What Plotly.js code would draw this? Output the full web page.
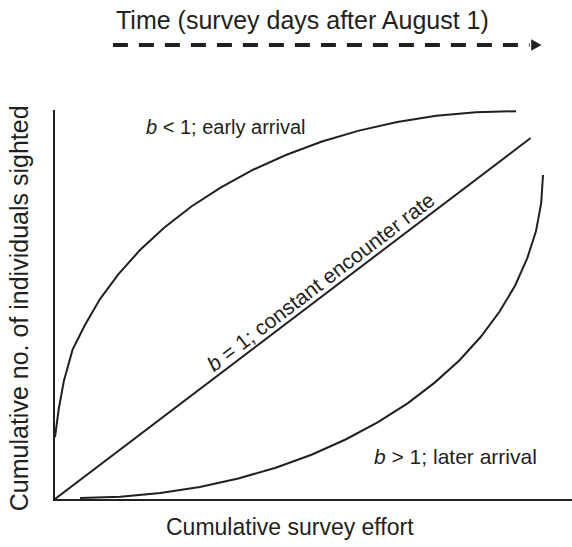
<!DOCTYPE html>
<html>
<head>
<meta charset="utf-8">
<script src="https://cdn.plot.ly/plotly-3.0.1.min.js"></script>
<style>
  html, body { margin: 0; padding: 0; background: #ffffff; }
  #chart { width: 572px; height: 547px; }
</style>
</head>
<body>
<div id="chart"></div>
<script>
// Cumulative sightings against cumulative survey effort for three shapes of b

// b < 1: early arrival (concave, saturating)
const earlyEffort  = [0, 0.73, 1.74, 3.40, 5.74, 8.70, 12.28, 16.44, 21.16, 26.38, 32.11, 38.24, 44.78, 51.64, 58.80, 66.19, 73.75, 81.43, 89.17];
const earlySighted = [15.9, 23.2, 30.5, 38.4, 44.6, 51.4, 57.8, 64.0, 69.8, 75.2, 80.1, 84.6, 88.5, 91.9, 94.7, 96.9, 98.5, 99.4, 99.7];

// b = 1: constant encounter rate (straight line)
const constEffort  = [0, 92.0];
const constSighted = [0, 92.8];

// b > 1: later arrival (convex, accelerating)
const lateEffort   = [4.84, 12.65, 20.39, 28.01, 35.45, 42.69, 49.61, 56.2, 62.40, 68.2, 73.44, 78.2, 82.40, 86.00, 89.00, 91.32, 93.04, 94.04, 94.39];
const lateSighted  = [0.26, 0.57, 1.52, 3.08, 5.27, 8.05, 11.38, 15.3, 19.69, 24.6, 29.92, 35.6, 41.77, 48.20, 54.88, 61.80, 68.87, 76.04, 83.29];

// Labels
const timeLabel  = 'Time (survey days after August 1)';
const xLabel     = 'Cumulative survey effort';
const yLabel     = 'Cumulative no. of individuals sighted';
const earlyLabel = '<i>b</i> &lt; 1; early arrival';
const constLabel = '<i>b</i> = 1; constant encounter rate';
const lateLabel  = '<i>b</i> &gt; 1; later arrival';

const INK = '#231f20';
const FONT = 'Liberation Sans, Arial, Helvetica, sans-serif';

function curve(x, y) {
  return {
    x: x, y: y, type: 'scatter', mode: 'lines',
    line: { color: INK, width: 2, shape: 'linear' },
    cliponaxis: false, hoverinfo: 'skip', showlegend: false
  };
}

const traces = [
  curve(earlyEffort, earlySighted),
  curve(constEffort, constSighted),
  curve(lateEffort, lateSighted)
];

const axisBase = {
  range: [0, 100], showline: true, linecolor: INK, linewidth: 2,
  showgrid: false, zeroline: false, showticklabels: false, ticks: '',
  fixedrange: true
};

const layout = {
  width: 572, height: 547,
  margin: { l: 55, r: 0, t: 110, b: 48, pad: 0 },
  paper_bgcolor: '#ffffff', plot_bgcolor: '#ffffff',
  font: { family: FONT, color: INK, size: 21 },
  xaxis: Object.assign({}, axisBase),
  yaxis: Object.assign({}, axisBase),
  showlegend: false,
  annotations: [
    { text: timeLabel, xref: 'paper', yref: 'paper', x: 0.479, y: 1.231,
      xanchor: 'center', yanchor: 'middle', showarrow: false, font: { size: 25 } },
    { text: xLabel, xref: 'paper', yref: 'paper', x: 0.455, y: -0.072,
      xanchor: 'center', yanchor: 'middle', showarrow: false, font: { size: 23 } },
    { text: yLabel, xref: 'paper', yref: 'paper', x: -0.068, y: 0.49,
      xanchor: 'center', yanchor: 'middle', textangle: -90, showarrow: false, font: { size: 25 } },
    { text: earlyLabel, xref: 'x', yref: 'y', x: 33, y: 95.6,
      xanchor: 'center', yanchor: 'middle', showarrow: false, font: { size: 20 } },
    { text: constLabel, xref: 'x', yref: 'y', x: 51.5, y: 55.8,
      xanchor: 'center', yanchor: 'middle', textangle: -37.3, showarrow: false, font: { size: 21 } },
    { text: lateLabel, xref: 'x', yref: 'y', x: 77.4, y: 10.8,
      xanchor: 'center', yanchor: 'middle', showarrow: false, font: { size: 21 } }
  ],
  shapes: [
    // dashed time arrow shaft
    { type: 'line', xref: 'paper', yref: 'paper', x0: 0.112, x1: 0.918, y0: 1.167, y1: 1.167,
      line: { color: INK, width: 4, dash: '15px,11px' } },
    // arrow head
    { type: 'path', xref: 'paper', yref: 'paper',
      path: 'M 0.921 1.182 L 0.941 1.167 L 0.921 1.152 Z',
      fillcolor: INK, line: { color: INK, width: 0 } }
  ]
};

Plotly.newPlot('chart', traces, layout, { staticPlot: true, displayModeBar: false });
</script>
</body>
</html>
